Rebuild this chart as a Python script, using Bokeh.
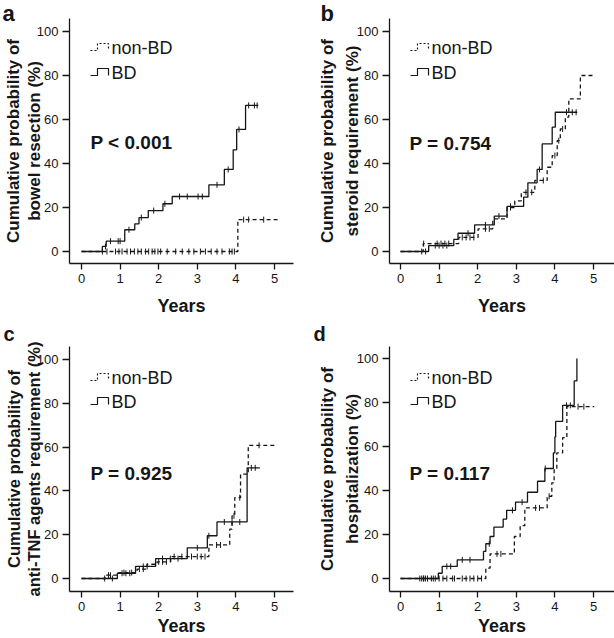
import numpy as np
from bokeh.plotting import figure
from bokeh.models import Label, Range1d, FixedTicker, Title
from bokeh.layouts import column, row
from bokeh.embed import file_html
from bokeh.resources import INLINE

FONT = "Liberation Sans"
INK = "#161616"

# ---------------- data (years, cumulative %) ----------------
x_ticks = [0, 1, 2, 3, 4, 5]
y_ticks = [0, 20, 40, 60, 80, 100]
series_names = ["non-BD", "BD"]

# a: bowel resection
a_bd_t = [0, 0.54, 0.64, 1.12, 1.38, 1.49, 1.73, 2.11, 2.35, 3.30, 3.70, 3.93, 4.02, 4.25, 4.58]
a_bd_y = [0, 2.3, 4.7, 9.9, 12.6, 15.4, 18.6, 21.7, 25.0, 30.3, 37.3, 46.2, 55.5, 66.4, 66.4]
a_bd_c = [0.62, 0.75, 0.95, 1.0, 1.23, 1.55, 1.87, 2.16, 2.54, 2.74, 3.02, 3.13, 3.51, 3.8, 4.08, 4.33, 4.48, 4.55]
a_nb_t = [0, 4.05, 5.13]
a_nb_y = [0, 14.5, 14.5]
a_nb_c = [0.54, 0.66, 0.88, 0.97, 1.05, 1.18, 1.27, 1.37, 1.46, 1.55, 1.66, 1.74, 1.83, 1.9, 1.98,
          2.05, 2.22, 2.44, 2.61, 2.78, 2.91, 3.08, 3.21, 3.36, 3.51, 3.64, 3.83, 3.9, 3.96,
          4.2, 4.33, 4.72]

# b: steroid requirement
b_bd_t = [0, 0.73, 1.38, 1.49, 1.92, 2.43, 2.76, 3.19, 3.30, 3.54, 3.67, 3.93, 4.01, 4.58]
b_bd_y = [0, 2.7, 5.5, 8.3, 12.1, 16.1, 20.5, 24.7, 31.2, 37.3, 48.9, 56.5, 63.3, 63.3]
b_bd_c = [0.65, 0.9, 1.0, 1.1, 1.2, 1.75, 2.2, 2.55, 2.85, 3.6, 4.3, 4.45, 4.55]
b_nb_t = [0, 0.59, 1.51, 2.01, 2.39, 2.76, 2.96, 3.13, 3.48, 3.80, 3.93, 4.06, 4.14, 4.27, 4.36, 4.66, 5.05]
b_nb_y = [0, 3.6, 6.4, 10.3, 14.8, 20.0, 23.0, 26.9, 32.3, 38.3, 43.6, 50.4, 55.7, 61.1, 69.4, 80.0, 80.0]
b_nb_c = [0.55, 0.6, 0.95, 1.05, 1.15, 1.25, 1.6, 1.7, 1.8, 1.9, 2.2, 2.3, 2.85, 3.25, 3.4, 3.7, 4.0, 4.1, 4.2]

# c: anti-TNF agents requirement
c_bd_t = [0, 0.93, 1.40, 1.92, 2.74, 3.26, 3.51, 4.29, 4.62]
c_bd_y = [0, 2.4, 5.5, 9.1, 14.0, 19.5, 25.8, 50.5, 50.5]
c_bd_c = [0.6, 0.8, 1.05, 1.15, 1.25, 1.6, 1.7, 2.1, 2.3, 2.5, 3.0, 3.3, 3.7, 3.9, 4.1, 4.4, 4.5]
c_nb_t = [0, 0.62, 0.97, 1.44, 1.70, 1.96, 2.31, 3.30, 3.84, 3.90, 3.97, 4.12, 4.32, 5.0]
c_nb_y = [0, 1.5, 2.7, 4.3, 6.5, 7.6, 10.0, 15.3, 22.5, 28.6, 36.9, 47.6, 60.8, 60.8]
c_nb_c = [0.7, 0.75, 1.1, 1.3, 1.5, 1.6, 2.0, 2.1, 2.2, 2.4, 2.6, 2.85, 3.0, 3.1, 3.2, 3.5, 3.6, 3.95, 4.1, 4.6]

# d: hospitalization
d_bd_t = [0, 0.98, 1.08, 1.47, 2.15, 2.21, 2.32, 2.42, 2.66, 2.75, 2.98, 3.29, 3.55, 3.74, 3.96, 4.00, 4.02, 4.20, 4.50, 4.57]
d_bd_y = [0, 2.4, 5.5, 8.5, 12.3, 15.8, 19.1, 23.4, 27.0, 31.0, 34.7, 39.2, 44.2, 50.0, 57.1, 64.4, 71.4, 78.7, 89.8, 100]
d_bd_c = [0.5, 0.55, 0.6, 0.7, 0.9, 1.2, 1.3, 1.6, 1.8, 2.3, 2.9, 3.15, 3.75, 4.3, 4.4]
d_nb_t = [0, 2.21, 2.32, 2.95, 3.10, 3.22, 3.80, 3.92, 3.98, 4.05, 4.20, 4.31, 5.02]
d_nb_y = [0, 4.7, 11.2, 19.1, 24.0, 32.1, 37.4, 43.5, 49.5, 57.1, 64.0, 78.1, 78.1]
d_nb_c = [0.6, 0.65, 0.8, 0.85, 1.0, 1.1, 1.2, 1.35, 1.4, 1.6, 1.7, 1.8, 1.9, 2.0, 2.1, 2.5, 2.6,
          3.5, 3.6, 3.85, 4.6, 4.75]

letters = ["a", "b", "c", "d"]
ytitles = ["Cumulative probability of\nbowel resection (%)",
           "Cumulative probability of\nsteroid requirement (%)",
           "Cumulative probability of\nanti-TNF agents requirement (%)",
           "Cumulative probability of\nhospitalization (%)"]
xtitle = "Years"
pvalues = ["P < 0.001", "P = 0.754", "P = 0.925", "P = 0.117"]


def step_at(times, ts, ys):
    idx = np.searchsorted(np.asarray(ts), np.asarray(times), side="right") - 1
    return np.asarray(ys)[idx]


def make_panel(i, bd, nb, geom, st):
    W, H, L, R, T, B, xr, yr = geom
    fw, fh = W - L - R, H - T - B
    title = Title(text=letters[i], align="left", offset=st["loff"], standoff=st["lstand"],
                  vertical_align="top", text_font=FONT, text_font_size=st["lsize"],
                  text_font_style="bold", text_color=INK)
    p = figure(width=W, height=H, x_range=Range1d(*xr), y_range=Range1d(*yr),
               output_backend="svg", toolbar_location=None, title=title,
               min_border_left=L, min_border_right=R, min_border_top=T, min_border_bottom=B)
    p.outline_line_color = None
    p.grid.grid_line_color = None
    p.xaxis.ticker = FixedTicker(ticks=x_ticks)
    p.yaxis.ticker = FixedTicker(ticks=y_ticks)
    for ax, tout, stand in ((p.xaxis, 6, 4), (p.yaxis, 7, 4)):
        ax.axis_line_width = 1.3
        ax.axis_line_color = INK
        ax.major_tick_line_color = INK
        ax.major_tick_line_width = 1.3
        ax.major_tick_out = tout
        ax.major_tick_in = 0
        ax.minor_tick_line_color = None
        ax.major_label_text_font = FONT
        ax.major_label_text_font_size = "13px"
        ax.major_label_text_color = INK
        ax.major_label_standoff = stand
        ax.axis_label_text_font = FONT
        ax.axis_label_text_font_style = "bold"
        ax.axis_label_text_color = INK
    p.yaxis.axis_label = ytitles[i]
    p.yaxis.axis_label_text_font_size = st["ysize"]
    p.yaxis.axis_label_text_line_height = st["lh"]
    p.yaxis.axis_label_standoff = st["ystand"]
    p.xaxis.axis_label = xtitle
    p.xaxis.axis_label_text_font_size = "18px"
    p.xaxis.axis_label_standoff = st["xstand"]

    # curves
    for (ts, ys, cs), dash in ((nb, "4 3"), (bd, "solid")):
        p.step(ts, ys, mode="after", line_color=INK, line_width=1.3, line_dash=dash)
        p.scatter(cs, step_at(cs, ts, ys), marker="dash", angle=np.pi / 2, size=6,
                  line_color=INK, line_width=1.0)

    sx = fw / (xr[1] - xr[0])
    sy = fh / (yr[1] - yr[0])

    def dx(px):
        return xr[0] + px / sx

    def dy(px):
        return yr[0] + px / sy

    def lab(x, y, text, size, style="normal"):
        p.add_layout(Label(x=x, y=y, x_units="screen", y_units="screen", text=text,
                           text_font=FONT, text_font_size=size, text_font_style=style,
                           text_color=INK, text_align="left", text_baseline="alphabetic"))

    lab(st["p"][0], st["p"][1], pvalues[i], "19px", "bold")

    # legend: step icons + names
    for k, (name, dash) in enumerate(zip(series_names, ["2 2", "solid"])):
        base = st["leg"][k]
        x0, x1, x2 = 21, 28, 39
        y0, y1 = base - 3, base + 4
        p.line([dx(x0), dx(x1), dx(x1), dx(x2), dx(x2)],
               [dy(y0), dy(y0), dy(y1), dy(y1), dy(y0)],
               line_color=INK, line_width=1.2, line_dash=dash)
        lab(42, base, name, "18px")
    return p


geo_a = (307, 319, 69, 14, 18, 56, (-0.311, 5.492), (-5.45, 105.9))
geo_b = (307, 319, 82, 0, 18, 56, (-0.285, 5.544), (-5.45, 105.9))
geo_c = (307, 319, 69, 14, 27, 47, (-0.311, 5.492), (-5.94, 105.9))
geo_d = (307, 319, 82, 0, 27, 47, (-0.285, 5.544), (-5.9, 105.45))

st_a = dict(loff=-67, lstand=-18, lsize="22px", ysize="17px", lh=1.1, ystand=-10, xstand=10, p=(21, 121), leg=(216, 191))
st_b = dict(loff=-69, lstand=-18, lsize="22px", ysize="17px", lh=1.3, ystand=-8, xstand=10, p=(20, 120), leg=(216, 191))
st_c = dict(loff=-66, lstand=-1, lsize="20px", ysize="16.5px", lh=1.12, ystand=-9, xstand=2, p=(21, 118), leg=(214, 190))
st_d = dict(loff=-76, lstand=-1, lsize="20px", ysize="17px", lh=1.3, ystand=-8, xstand=2, p=(20, 118), leg=(214, 190))

pa = make_panel(0, (a_bd_t, a_bd_y, a_bd_c), (a_nb_t, a_nb_y, a_nb_c), geo_a, st_a)
pb = make_panel(1, (b_bd_t, b_bd_y, b_bd_c), (b_nb_t, b_nb_y, b_nb_c), geo_b, st_b)
pc = make_panel(2, (c_bd_t, c_bd_y, c_bd_c), (c_nb_t, c_nb_y, c_nb_c), geo_c, st_c)
pd = make_panel(3, (d_bd_t, d_bd_y, d_bd_c), (d_nb_t, d_nb_y, d_nb_c), geo_d, st_d)

layout = column(row(pa, pb), row(pc, pd))
open("out.html", "w").write(file_html(layout, INLINE))
